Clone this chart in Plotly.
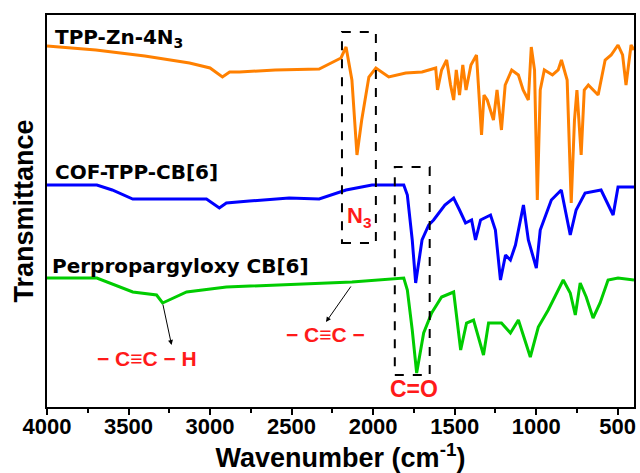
import plotly.graph_objects as go

# ---- data (wavenumber cm-1, transmittance a.u., offset traces) ----
orange_x = [4000, 3700, 3400, 3126, 3000, 2924, 2880, 2820, 2600, 2331, 2197, 2166, 2130, 2099, 2070,
            2026, 1983, 1904, 1800, 1700, 1616, 1605, 1580, 1549, 1525, 1506, 1490, 1470, 1450, 1430,
            1400, 1366, 1335, 1320, 1300, 1262, 1240, 1213, 1190, 1150, 1109, 1080, 1048, 1030, 1010,
            993, 975, 950, 900, 865, 845, 810, 785, 765, 750, 724, 705, 680, 620, 577, 540, 498, 470,
            449, 418, 400]
orange_y = [361, 357, 351, 344, 339, 330, 335, 335, 337, 338, 349, 360, 327, 252, 287,
            330, 339, 330, 334, 335, 339, 317, 337, 347, 322, 307, 337, 312, 342, 317,
            342, 352, 272, 312, 307, 287, 317, 277, 322, 337, 332, 317, 307, 360, 337,
            207, 317, 337, 332, 337, 347, 327, 204, 287, 317, 252, 317, 322, 312, 347, 352, 362, 352,
            322, 362, 357]

blue_x = [4000, 3694, 3600, 3474, 3200, 3022, 2943, 2900, 2759, 2515, 2331, 2166, 2007, 1812, 1790,
          1760, 1739, 1700, 1659, 1629, 1560, 1506, 1470, 1433, 1396, 1372, 1341, 1280, 1250, 1219,
          1188, 1158, 1127, 1078, 1048, 1030, 999, 975, 907, 846, 791, 755, 700, 602, 559, 528, 498, 400]
blue_y = [222, 222, 217, 208, 208, 208, 199, 204, 206, 209, 208, 217, 222, 222, 212,
          167, 124, 167, 182, 187, 202, 209, 197, 184, 187, 167, 187, 192, 177, 127,
          152, 147, 162, 202, 167, 157, 139, 177, 207, 217, 172, 197, 214, 217, 202, 192, 220, 220]

green_x = [4000, 3694, 3474, 3328, 3291, 3144, 2900, 2331, 2130, 1812, 1790, 1760, 1733, 1690, 1641,
           1580, 1506, 1463, 1427, 1384, 1323, 1292, 1213, 1158, 1109, 1036, 987, 926, 834, 791,
           760, 730, 693, 651, 608, 559, 498, 400]
green_y = [129, 129, 115, 112, 104, 115, 120, 124, 125, 129, 117, 77, 34, 74, 94,
           110, 115, 57, 84, 87, 52, 84, 84, 74, 87, 50, 80, 97, 127, 114,
           92, 124, 110, 89, 104, 127, 129, 127]

series_names = ["TPP-Zn-4N<sub>3</sub>", "COF-TPP-CB[6]", "Perpropargyloxy CB[6]"]
x_ticks = [4000, 3500, 3000, 2500, 2000, 1500, 1000, 500]

FONT = "Liberation Sans, Arial, sans-serif"
LFONT = "DejaVu Sans, sans-serif"
RED = "#ff1a1a"

fig = go.Figure()
for xs, ys, col in [(orange_x, orange_y, "#ff8000"), (blue_x, blue_y, "#0000ff"), (green_x, green_y, "#00cc00")]:
    fig.add_trace(go.Scatter(x=xs, y=ys, mode="lines", line=dict(color=col, width=3), showlegend=False))

# dashed boxes
for x0, x1, y0, y1 in [(2191, 1983, 164, 375), (1867, 1653, 32, 240)]:
    fig.add_shape(type="rect", x0=x0, x1=x1, y0=y0, y1=y1,
                  line=dict(color="black", width=2, dash="dash"))

# series labels
for txt, x, y in [(series_names[0], 3965, 369), (series_names[1], 3965, 235), (series_names[2], 3980, 141)]:
    fig.add_annotation(x=x, y=y, text="<b>" + txt + "</b>", showarrow=False, xanchor="left",
                       yanchor="middle", font=dict(family=LFONT, size=20, color="black"))

# red labels
for txt, x, y, s in [("N<sub>3</sub>", 2087, 190, 22), ("C=O", 1751, 18, 23),
                     ("− C≡C − H", 3389, 49, 21), ("− C≡C −", 2295, 73, 21)]:
    fig.add_annotation(x=x, y=y, text="<b>" + txt + "</b>", showarrow=False, xanchor="center",
                       yanchor="middle", font=dict(family=FONT, size=s, color=RED))

# arrows
for tx, ty, hx, hy in [(3291, 104, 3236, 62), (2130, 122, 2289, 85)]:
    fig.add_annotation(x=hx, y=hy, ax=tx, ay=ty, axref="x", ayref="y", xref="x", yref="y",
                       text="", showarrow=True, arrowhead=2, arrowsize=1, arrowwidth=1, arrowcolor="black")

fig.update_layout(
    width=640, height=473,
    margin=dict(l=47, r=4, t=15, b=66),
    paper_bgcolor="white", plot_bgcolor="white",
    font=dict(family=FONT, color="black"),
    xaxis=dict(range=[4000, 400], tickvals=x_ticks, ticktext=["<b>%d</b>" % v for v in x_ticks],
               ticks="outside", ticklen=6, tickwidth=2, tickcolor="black", ticklabelstandoff=-7,
               minor=dict(dtick=250, tick0=0, ticks="outside", ticklen=4, tickwidth=2, tickcolor="black"),
               showline=True, linewidth=2, linecolor="black", mirror=True, showgrid=False, zeroline=False,
               tickfont=dict(size=22, family=FONT),
               title=dict(text="<b>Wavenumber (cm<sup>-1</sup>)</b>", font=dict(size=27, family=FONT), standoff=0)),
    yaxis=dict(range=[0, 392], showticklabels=False, ticks="", showline=True, linewidth=2, linecolor="black",
               mirror=True, showgrid=False, zeroline=False,
               title=dict(text="<b>Transmittance</b>", font=dict(size=27, family=FONT), standoff=4)),
)

fig.write_html("out.html")
